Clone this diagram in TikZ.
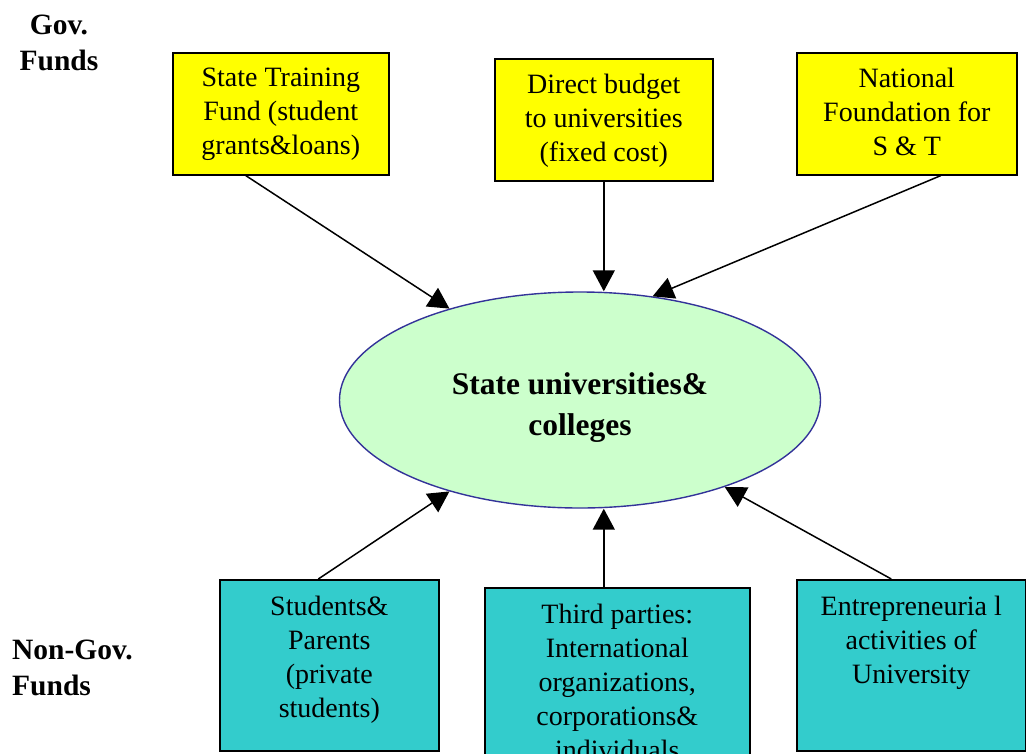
\documentclass[tikz,border=0pt]{standalone}
\usepackage{fontspec}
\setmainfont{Liberation Serif}
\usetikzlibrary{shapes.geometric,arrows.meta,calc}
\definecolor{govyellow}{HTML}{FFFF00}
\definecolor{privcyan}{HTML}{33CCCC}
\definecolor{unigreen}{HTML}{CCFFCC}
\definecolor{uniborder}{HTML}{333399}
\begin{document}
\begin{tikzpicture}[x=1pt,y=-1pt,
  govbox/.style={draw=black,line width=1.6pt,fill=govyellow,anchor=north west,inner sep=0pt},
  privbox/.style={draw=black,line width=1.6pt,fill=privcyan,anchor=north west,inner sep=0pt},
  boxtext/.style={anchor=north,inner sep=0pt,align=center,
    font=\fontsize{28}{34}\selectfont},
  sidelabel/.style={inner sep=0pt,font=\fontsize{29.5}{36}\selectfont\bfseries},
  unibox/.style={ellipse,draw=uniborder,line width=1.4pt,fill=unigreen,
    minimum width=481pt,minimum height=216pt,inner sep=0pt},
  unitext/.style={inner sep=0pt,align=center,
    font=\fontsize{31.5}{41}\selectfont\bfseries},
  flow/.style={line width=1.5pt,-{Triangle[length=21pt,width=22pt]}}]
\path[use as bounding box] (0,0) rectangle (1026,753);
\clip (0,0) rectangle (1026,753);

% funding category labels
\node[sidelabel,align=center] (gov) at (59,43) {Gov.\\Funds};
\node[sidelabel,align=left,anchor=west] (nongov) at (12,668) {Non-Gov.\\Funds};

% government sources
\node[govbox,minimum width=216pt,minimum height=122pt] (b1) at (172,52) {};
\node[boxtext] (t1) at ($(b1.north)+(0,16)$) {State Training\\Fund (student\\grants\&loans)};
\node[govbox,minimum width=218pt,minimum height=122pt] (b2) at (494,58) {};
\node[boxtext] (t2) at ($(b2.north)+(0,16)$) {Direct budget\\to universities\\(fixed cost)};
\node[govbox,minimum width=220pt,minimum height=122pt] (b3) at (796,52) {};
\node[boxtext] (t3) at ($(b3.north)+(0,16)$) {National\\Foundation for\\S \& T};

% the institutions
\node[unibox] (uni) at (580,400) {};
\node[unitext] (unilabel) at ($(uni.center)+(0,8)$) {State universities\&\\colleges};

% non-government sources
\node[privbox,minimum width=219pt,minimum height=171pt] (b4) at (219,579) {};
\node[boxtext] (t4) at ($(b4.north)+(0,17)$) {Students\&\\Parents\\(private\\students)};
\node[privbox,minimum width=265pt,minimum height=220pt] (b5) at (484,587) {};
\node[boxtext] (t5) at ($(b5.north)+(0,17)$) {Third parties:\\International\\organizations,\\corporations\&\\individuals};
\node[privbox,minimum width=229pt,minimum height=171pt] (b6) at (796,579) {};
\node[boxtext] (t6) at ($(b6.north)+(0,17)$) {Entrepreneuria l\\activities of\\University};

% flows into the universities
\coordinate (s1) at ($(b1.south)+(-35,0)$);
\coordinate (s3) at ($(b3.south)+(34,0)$);
\coordinate (s4) at ($(b4.north)+(-11,0)$);
\coordinate (s5) at (b2.south |- b5.north);
\coordinate (s6) at ($(b6.north)+(-20,0)$);
\draw[flow] (s1) -- (uni.145);
\draw[flow] (b2.south) -- (b2.south |- uni.north);
\draw[flow] (s3) -- (uni.55);
\draw[flow] (s4) -- (uni.215);
\draw[flow] (s5) -- (s5 |- uni.south);
\draw[flow] (s6) -- (uni.329);
\end{tikzpicture}
\end{document}
